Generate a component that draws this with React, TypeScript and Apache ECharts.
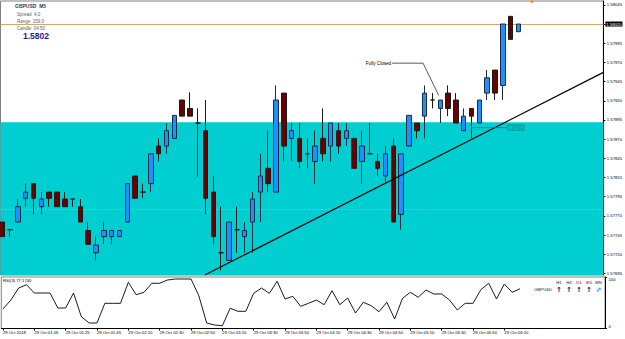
import React, { useEffect, useRef } from 'react';
import * as echarts from 'echarts';

// ---- data ----
const timeLabels = [
  '29 Oct 2018', '29 Oct 01:05', '29 Oct 01:25', '29 Oct 01:45', '29 Oct 02:10',
  '29 Oct 02:30', '29 Oct 02:50', '29 Oct 03:10', '29 Oct 03:30', '29 Oct 03:50',
  '29 Oct 04:10', '29 Oct 04:30', '29 Oct 04:50', '29 Oct 05:10', '29 Oct 05:30',
  '29 Oct 05:50', '29 Oct 06:10',
];
const barsPerLabel = 4;

// [open, close, low, high]
const candles: number[][] = [
  [1.57762, 1.57743, 1.57743, 1.57762],
  [1.57752, 1.57752, 1.57743, 1.57752],
  [1.57762, 1.57782, 1.57762, 1.57792],
  [1.57793, 1.57801, 1.57782, 1.57812],
  [1.57812, 1.57793, 1.57772, 1.57812],
  [1.57782, 1.57792, 1.57772, 1.57801],
  [1.57801, 1.57793, 1.57782, 1.57801],
  [1.57801, 1.57782, 1.57782, 1.57801],
  [1.57792, 1.57782, 1.57782, 1.57801],
  [1.57792, 1.57792, 1.57782, 1.57792],
  [1.57782, 1.57762, 1.57762, 1.57792],
  [1.57751, 1.57733, 1.57733, 1.57762],
  [1.57722, 1.57732, 1.57712, 1.57743],
  [1.57743, 1.57751, 1.57733, 1.57762],
  [1.57743, 1.57751, 1.57733, 1.57751],
  [1.57743, 1.57751, 1.57743, 1.57751],
  [1.57762, 1.57812, 1.57762, 1.57812],
  [1.57822, 1.57793, 1.57793, 1.57822],
  [1.57801, 1.57801, 1.57793, 1.57812],
  [1.57812, 1.57851, 1.57801, 1.57851],
  [1.57861, 1.57851, 1.57841, 1.57871],
  [1.57861, 1.57881, 1.57851, 1.57891],
  [1.57871, 1.57901, 1.57871, 1.57901],
  [1.57921, 1.57900, 1.57900, 1.57921],
  [1.57910, 1.57900, 1.57900, 1.57931],
  [1.57891, 1.57891, 1.57821, 1.57910],
  [1.57881, 1.57793, 1.57772, 1.57921],
  [1.57801, 1.57743, 1.57733, 1.57822],
  [1.57722, 1.57722, 1.57699, 1.57782],
  [1.57712, 1.57762, 1.57712, 1.57762],
  [1.57752, 1.57752, 1.57722, 1.57782],
  [1.57743, 1.57751, 1.57722, 1.57762],
  [1.57762, 1.57792, 1.57722, 1.57801],
  [1.57801, 1.57822, 1.57762, 1.57851],
  [1.57832, 1.57812, 1.57801, 1.57881],
  [1.57801, 1.57921, 1.57801, 1.57940],
  [1.57930, 1.57861, 1.57841, 1.57930],
  [1.57871, 1.57881, 1.57841, 1.57891],
  [1.57871, 1.57841, 1.57832, 1.57891],
  [1.57851, 1.57851, 1.57832, 1.57871],
  [1.57841, 1.57861, 1.57812, 1.57881],
  [1.57871, 1.57851, 1.57841, 1.57910],
  [1.57861, 1.57891, 1.57841, 1.57891],
  [1.57881, 1.57861, 1.57851, 1.57891],
  [1.57871, 1.57881, 1.57861, 1.57891],
  [1.57871, 1.57832, 1.57832, 1.57871],
  [1.57841, 1.57861, 1.57812, 1.57881],
  [1.57851, 1.57851, 1.57851, 1.57891],
  [1.57841, 1.57832, 1.57822, 1.57851],
  [1.57822, 1.57851, 1.57812, 1.57861],
  [1.57861, 1.57762, 1.57762, 1.57871],
  [1.57772, 1.57851, 1.57752, 1.57851],
  [1.57861, 1.57901, 1.57861, 1.57901],
  [1.57891, 1.57881, 1.57871, 1.57891],
  [1.57900, 1.57930, 1.57871, 1.57940],
  [1.57921, 1.57921, 1.57910, 1.57930],
  [1.57910, 1.57921, 1.57891, 1.57921],
  [1.57930, 1.57910, 1.57900, 1.57940],
  [1.57921, 1.57891, 1.57891, 1.57930],
  [1.57881, 1.57900, 1.57881, 1.57910],
  [1.57910, 1.57900, 1.57871, 1.57910],
  [1.57891, 1.57921, 1.57891, 1.57921],
  [1.57930, 1.57950, 1.57921, 1.57960],
  [1.57960, 1.57930, 1.57921, 1.57960],
  [1.57940, 1.58020, 1.57921, 1.58020],
  [1.58030, 1.58000, 1.58000, 1.58030],
  [1.58010, 1.58020, 1.58010, 1.58020],
];

const rsiValues = [
  37.9, 55.3, 78.6, 85.0, 68.9, 68.9, 68.9, 39.8, 39.8, 68.9,
  22.9, 10.7, 10.7, 48.9, 48.9, 48.9, 89.7, 65.6, 70.3, 87.8,
  87.8, 94.2, 96.1, 96.1, 96.1, 63.7, 10.7, 6.8, 5.4, 39.2,
  33.4, 33.4, 68.3, 78.6, 68.3, 91.7, 57.3, 62.5, 43.1, 48.9,
  55.3, 46.2, 73.4, 46.2, 59.2, 30.1, 50.9, 44.3, 32.6, 50.9,
  18.4, 58.6, 70.3, 60.6, 74.8, 67.0, 67.0, 55.3, 35.9, 48.9,
  48.9, 75.3, 87.8, 57.3, 86.4, 70.3, 77.17,
];

const priceTicks = [
  1.57695, 1.5772, 1.57745, 1.5777, 1.57795, 1.5782, 1.57845, 1.5787,
  1.57895, 1.5792, 1.57945, 1.5797, 1.57995, 1.5802, 1.58045,
];
const priceMin = 1.57693;
const priceMax = 1.5805;
const bidPrice = 1.5802;
const zoneTop = 1.57892;
const dottedLevel = 1.57779;
const trendPoints = [[25.9, 1.57693], [76.85, 1.57957]];
const fullyClosedPoints = [[49.85, 1.57969], [53.8, 1.57969], [55.8, 1.57927]];
const zoneLabelPoints = [[59.9, 1.57885], [64.6, 1.57885]];
const zoneLabelText = '1.57901';
const rsiLabel = 'RSI(3) 77.1740';
const infoLines = ['Spread  4.0', 'Range  159,0', 'Candle  04:50'];
const mtfFrames = ['H1', 'H4', 'D1', 'W1', 'MN'];

const FONT = 'Liberation Sans, Arial, sans-serif';

export default function App() {
  const ref = useRef<HTMLDivElement>(null);

  useEffect(() => {
    document.body.style.margin = '0';
    const chart = echarts.init(ref.current!, undefined, { renderer: 'svg' });
    const xMin = -0.217;
    const xMax = 76.85;
    const labelIdx = timeLabels.map((_, i) => i * barsPerLabel);

    const mtfX = [559, 569, 579, 589, 598.5];
    const graphics: any[] = [
      { type: 'text', x: 15, y: 6, style: { text: 'GBPUSD  M5', fill: '#404040', fontSize: 5, fontWeight: 'bold', fontFamily: FONT, verticalAlign: 'middle', textVerticalAlign: 'middle' } },
      ...infoLines.map((t, i) => ({ type: 'text', x: 17, y: 14.5 + i * 6.8, style: { text: t, fill: '#606060', fontSize: 4.5, fontFamily: FONT, verticalAlign: 'middle', textVerticalAlign: 'middle' } })),
      { type: 'text', x: 23, y: 35.7, style: { text: '1.5802', fill: '#1c1c8c', fontSize: 8.5, fontWeight: 'bold', fontFamily: FONT, verticalAlign: 'middle', textVerticalAlign: 'middle' } },
      { type: 'text', x: 3, y: 280, style: { text: rsiLabel, fill: '#000', fontSize: 4.2, fontFamily: FONT, verticalAlign: 'middle', textVerticalAlign: 'middle' } },
      ...mtfFrames.map((t, i) => ({ type: 'text', x: mtfX[i], y: 282.3, style: { text: t, fill: '#202020', fontSize: 4.2, fontFamily: FONT, align: 'center', textAlign: 'center', verticalAlign: 'middle', textVerticalAlign: 'middle' } })),
      { type: 'text', x: 552, y: 289.7, style: { text: 'GBPUSD', fill: '#202020', fontSize: 4.2, fontFamily: FONT, align: 'right', textAlign: 'right', verticalAlign: 'middle', textVerticalAlign: 'middle' } },
      ...mtfFrames.map((t, i) => ({ type: 'text', x: mtfX[i], y: 289.7, style: { text: i < 4 ? '↑' : '⇗', fill: i < 4 ? '#0a0a8c' : '#2a9df4', fontSize: 7, fontWeight: 'bold', fontFamily: 'DejaVu Sans', align: 'center', textAlign: 'center', verticalAlign: 'middle', textVerticalAlign: 'middle' } })),
      { type: 'circle', shape: { cx: 532, cy: 1.5, r: 1.6 }, style: { fill: '#e0a040' } },
    ];

    const option: any = {
      animation: false,
      backgroundColor: '#ffffff',
      textStyle: { fontFamily: FONT },
      grid: [
        { left: 0.5, top: 1, width: 604.5, height: 274, show: true, borderColor: '#808080', borderWidth: 1, backgroundColor: '#ffffff' },
        { left: 0.5, top: 277, width: 604.5, height: 51.5, show: true, borderColor: '#808080', borderWidth: 1, backgroundColor: '#ffffff' },
      ],
      xAxis: [
        { type: 'value', gridIndex: 0, min: xMin, max: xMax, show: false, axisLine: { onZero: false }, splitLine: { show: false } },
        {
          type: 'value', gridIndex: 1, min: xMin, max: xMax, position: 'bottom',
          axisLine: { show: true, onZero: false, lineStyle: { color: '#000', width: 1 } },
          axisTick: { show: true, customValues: labelIdx, length: 2, lineStyle: { color: '#000' } },
          axisLabel: {
            show: true, customValues: labelIdx, fontSize: 4.2, color: '#000', margin: 1.5,
            align: 'left', fontFamily: FONT,
            formatter: (v: number) => timeLabels[Math.round(v / barsPerLabel)] ?? '',
          },
          splitLine: { show: false },
        },
      ],
      yAxis: [
        {
          type: 'value', gridIndex: 0, position: 'right', min: priceMin, max: priceMax,
          axisLine: { show: true, onZero: false, lineStyle: { color: '#000', width: 1 } },
          axisTick: { show: true, customValues: priceTicks, length: 2, lineStyle: { color: '#000' } },
          axisLabel: { show: true, customValues: priceTicks, fontSize: 4.2, color: '#000', margin: 3.5, fontFamily: FONT, formatter: (v: number) => v.toFixed(5) },
          splitLine: { show: false },
        },
        {
          type: 'value', gridIndex: 1, position: 'right', min: 0, max: 100,
          axisLine: { show: true, onZero: false, lineStyle: { color: '#000', width: 1 } },
          axisTick: { show: true, customValues: [0, 100], length: 2, lineStyle: { color: '#000' } },
          axisLabel: { show: true, customValues: [0, 100], fontSize: 4.2, color: '#000', margin: 3.5, fontFamily: FONT, verticalAlignMaxLabel: 'top', verticalAlignMinLabel: 'bottom' },
          splitLine: { show: false },
        },
      ],
      series: [
        {
          type: 'candlestick', name: 'GBPUSD', xAxisIndex: 0, yAxisIndex: 0, z: 3,
          barWidth: 5,
          data: candles.map((c, i) => [i, c[0], c[1], c[2], c[3]]),
          itemStyle: { color: '#1e90ff', color0: '#6b0000', borderColor: '#1a2a40', borderColor0: '#1a1a1a', borderColorDoji: '#1a1a1a', borderWidth: 1 },
        },
        {
          type: 'line', name: 'trend', xAxisIndex: 0, yAxisIndex: 0, z: 4,
          data: trendPoints, showSymbol: false, symbol: 'none', clip: true,
          lineStyle: { color: '#000', width: 1.2 },
          markArea: {
            silent: true, z: 1,
            itemStyle: { color: '#00ced1' },
            data: [[{ yAxis: zoneTop }, { yAxis: priceMin }]],
          },
          markLine: {
            silent: true, symbol: 'none', z: 2, precision: 5,
            data: [
              {
                yAxis: bidPrice,
                lineStyle: { color: '#d4a86a', width: 1, type: 'solid' },
                label: { show: true, position: 'end', formatter: bidPrice.toFixed(5), backgroundColor: '#000', color: '#fff', fontSize: 4.2, padding: [1, 1, 0, 1], distance: 2, fontFamily: FONT },
              },
              {
                yAxis: dottedLevel,
                lineStyle: { color: '#7cd66a', width: 1, type: [2, 2] },
                label: { show: false },
              },
            ],
          },
        },
        {
          type: 'line', name: 'fully closed', xAxisIndex: 0, yAxisIndex: 0, z: 4,
          data: fullyClosedPoints.map((p, i) => ({
            value: p,
            label: i === 0 ? { show: true, position: 'left', distance: 1, formatter: 'Fully Closed', fontSize: 4.6, color: '#000', fontFamily: FONT } : { show: false },
          })),
          showSymbol: true, symbolSize: 0, symbol: 'circle',
          lineStyle: { color: '#303030', width: 0.8 },
        },
        {
          type: 'line', name: 'zone label', xAxisIndex: 0, yAxisIndex: 0, z: 4,
          data: zoneLabelPoints.map((p, i) => ({
            value: p,
            label: i === 1 ? { show: true, position: 'right', distance: 0, formatter: zoneLabelText, fontSize: 4, color: '#006a6a', borderColor: '#007a7a', borderWidth: 0.8, padding: [0.5, 1], fontFamily: FONT } : { show: false },
          })),
          showSymbol: true, symbolSize: 0, symbol: 'circle',
          lineStyle: { color: '#008080', width: 0.8 },
        },
        {
          type: 'line', name: 'RSI', xAxisIndex: 1, yAxisIndex: 1,
          data: rsiValues.map((v, i) => [i, v]), showSymbol: false, symbol: 'none',
          lineStyle: { color: '#000', width: 0.9 },
        },
      ],
      graphic: graphics,
    };
    chart.setOption(option);
    return () => chart.dispose();
  }, []);

  return <div ref={ref} style={{ width: 625, height: 339, position: 'absolute', left: 0, top: 0 }} />;
}
